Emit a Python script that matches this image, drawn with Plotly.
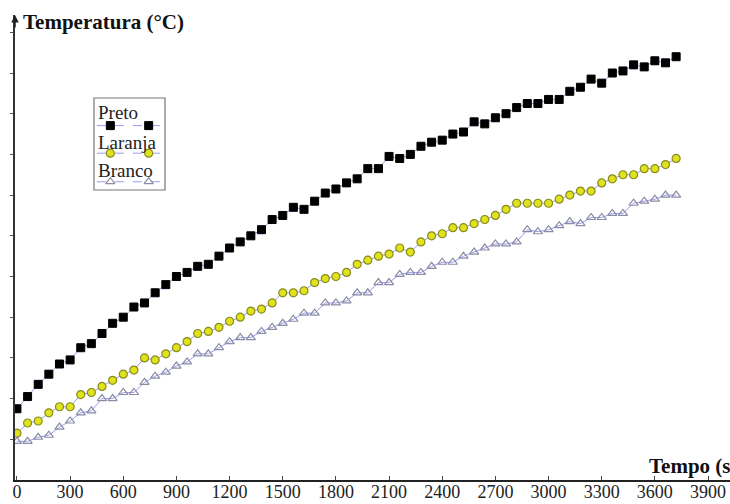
import plotly.graph_objects as go

# ---- data ----
tempo = [i * 60 for i in range(63)]  # seconds, 0 .. 3720

preto = [23.5, 24.1, 24.7, 25.2, 25.7, 25.9, 26.5, 26.7, 27.2, 27.7,
         28.0, 28.5, 28.7, 29.2, 29.6, 30.0, 30.2, 30.5, 30.6, 31.0,
         31.4, 31.7, 32.0, 32.3, 32.8, 33.0, 33.4, 33.3, 33.7, 34.1,
         34.3, 34.6, 34.8, 35.3, 35.3, 35.9, 35.8, 36.0, 36.4, 36.6,
         36.7, 37.0, 37.1, 37.6, 37.5, 37.8, 38.0, 38.3, 38.5, 38.5,
         38.7, 38.7, 39.1, 39.3, 39.7, 39.5, 40.0, 40.1, 40.4, 40.3,
         40.6, 40.5, 40.8]

laranja = [22.3, 22.8, 22.9, 23.3, 23.6, 23.6, 24.2, 24.3, 24.6, 24.9,
           25.2, 25.4, 26.0, 25.9, 26.2, 26.5, 26.8, 27.2, 27.3, 27.5,
           27.8, 28.0, 28.3, 28.4, 28.7, 29.2, 29.2, 29.3, 29.7, 29.9,
           30.0, 30.2, 30.6, 30.8, 31.0, 31.1, 31.4, 31.2, 31.7, 32.0,
           32.1, 32.4, 32.4, 32.6, 32.8, 33.0, 33.3, 33.6, 33.6, 33.6,
           33.6, 33.8, 34.0, 34.2, 34.2, 34.6, 34.8, 35.0, 35.0, 35.3,
           35.3, 35.5, 35.8]

branco = [21.9, 21.9, 22.1, 22.2, 22.6, 22.9, 23.3, 23.4, 24.0, 24.0,
          24.3, 24.3, 24.8, 25.1, 25.3, 25.6, 25.8, 26.2, 26.2, 26.5,
          26.8, 27.0, 27.0, 27.3, 27.5, 27.7, 27.9, 28.2, 28.2, 28.7,
          28.7, 28.8, 29.2, 29.2, 29.7, 29.7, 30.1, 30.2, 30.2, 30.5,
          30.7, 30.7, 31.0, 31.2, 31.4, 31.6, 31.6, 31.7, 32.3, 32.2,
          32.3, 32.5, 32.7, 32.6, 32.9, 32.9, 33.1, 33.1, 33.6, 33.7,
          33.8, 34.0, 34.0]

series_names = ["Preto", "Laranja", "Branco"]
x_ticks = list(range(0, 4000, 300))
y_ticks = list(range(22, 43, 2))

# ---- styles ----
LINE_COL = "#9a9af0"
FONT = "Liberation Serif"
styles = {
    "Preto": dict(symbol="square", size=8, color="#000000",
                  line=dict(color="#000000", width=1)),
    "Laranja": dict(symbol="circle", size=8, color="#dfe31c",
                    line=dict(color="#8a8a22", width=1.2)),
    "Branco": dict(symbol="triangle-up-open", size=8, color="#8c8ca4",
                   line=dict(color="#8c8ca4", width=1.2)),
}

fig = go.Figure()
for name, ys in zip(series_names, [preto, laranja, branco]):
    fig.add_trace(go.Scatter(
        x=tempo, y=ys, mode="lines+markers", name=name,
        line=dict(color=LINE_COL, width=1),
        marker=styles[name], showlegend=False,
        xaxis="x", yaxis="y"))

# ---- hand-drawn legend (text above a sample line with two markers) ----
leg_rows = [0.70, 0.40, 0.09]
for name, yy in zip(series_names, leg_rows):
    fig.add_trace(go.Scatter(
        x=[0.04, 0.96], y=[yy, yy], mode="lines",
        line=dict(color=LINE_COL, width=1, dash="dash"),
        showlegend=False, hoverinfo="skip", xaxis="x2", yaxis="y2"))
    fig.add_trace(go.Scatter(
        x=[0.23, 0.77], y=[yy, yy], mode="markers",
        marker=styles[name], showlegend=False, hoverinfo="skip",
        xaxis="x2", yaxis="y2", cliponaxis=False))

L, R, T, B = 15, 0, 15, 24
W, H = 730, 504
pw, ph = W - L - R, H - T - B


def px(xp):
    return (xp - L) / pw


def py(yp):
    return (H - B - yp) / ph


annotations = [
    dict(text="<b>Temperatura (°C)</b>", x=px(21), y=py(22), xref="paper", yref="paper",
         xanchor="left", yanchor="middle", showarrow=False,
         font=dict(family=FONT, size=21, color="#111")),
    dict(text="<b>Tempo (s)</b>", x=px(647), y=py(466), xref="paper", yref="paper",
         xanchor="left", yanchor="middle", showarrow=False,
         font=dict(family=FONT, size=21, color="#111")),
    dict(text="", x=0, y=1, xref="paper", yref="paper", showarrow=True,
         ax=0, ay=14, arrowhead=2, arrowsize=1, arrowwidth=1.5, arrowcolor="#222"),
]
for name, yp in zip(series_names, [113, 142, 171]):
    annotations.append(dict(text=name, x=px(96), y=py(yp), xref="paper", yref="paper",
                            xanchor="left", yanchor="middle", showarrow=False,
                            font=dict(family=FONT, size=19, color="#222")))

fig.update_layout(
    width=W, height=H,
    margin=dict(l=L, r=R, t=T, b=B, autoexpand=False),
    paper_bgcolor="white", plot_bgcolor="white",
    showlegend=False,
    xaxis=dict(range=[-11, 4024], tickvals=x_ticks, ticktext=[str(v) for v in x_ticks],
               showgrid=False, zeroline=False, showline=True, linecolor="#222",
               linewidth=1.5, ticks="inside", ticklen=4, tickcolor="#444",
               automargin=False, ticklabelstandoff=-5,
               tickfont=dict(family=FONT, size=18, color="#222")),
    yaxis=dict(range=[20, 42.85], tickvals=y_ticks, showticklabels=False,
               showgrid=False, zeroline=False, showline=True, linecolor="#333",
               linewidth=1.5, ticks="outside", ticklen=3, tickcolor="#555",
               automargin=False),
    xaxis2=dict(domain=[px(94), px(165)], range=[0, 1], visible=False, anchor="y2"),
    yaxis2=dict(domain=[py(190), py(98)], range=[0, 1], visible=False, anchor="x2"),
    shapes=[dict(type="rect", xref="paper", yref="paper",
                 x0=px(94), x1=px(165), y0=py(190), y1=py(98),
                 line=dict(color="#777", width=1.2), fillcolor="rgba(0,0,0,0)")],
    annotations=annotations,
)

fig.write_html("out.html", config={"displayModeBar": False},
               post_script="document.body.style.margin='0';document.body.style.overflow='hidden';")
